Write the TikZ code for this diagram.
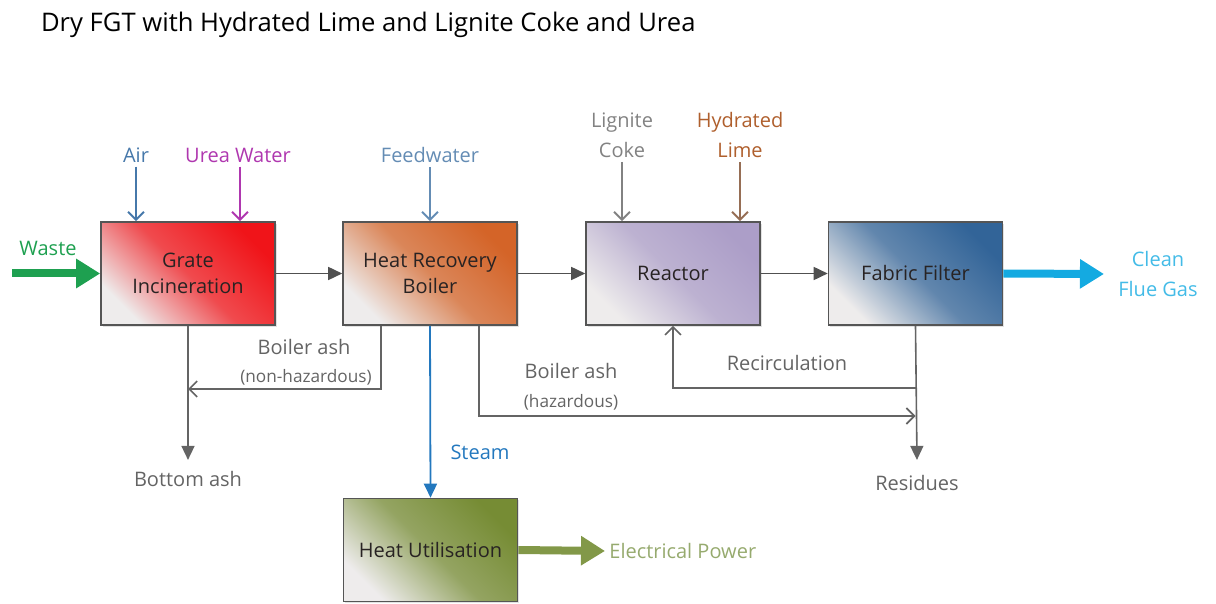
\documentclass[tikz,border=0pt]{standalone}
\usepackage{fontspec}
\setmainfont{Open Sans}
\usetikzlibrary{arrows.meta,positioning,shadows}
\definecolor{BoxEdge}{RGB}{85,85,85}
\definecolor{BoxText}{RGB}{40,35,35}
\definecolor{BoxLight}{RGB}{238,236,236}
\definecolor{GrateRed}{RGB}{240,20,25}
\definecolor{BoilerOrange}{RGB}{212,100,40}
\definecolor{ReactorLilac}{RGB}{172,158,200}
\definecolor{FilterBlue}{RGB}{50,100,152}
\definecolor{UtilOlive}{RGB}{118,140,52}
\definecolor{FlowGray}{RGB}{80,80,80}
\definecolor{AshGray}{RGB}{100,100,100}
\definecolor{WasteGreen}{RGB}{30,160,80}
\definecolor{AirBlue}{RGB}{70,120,170}
\definecolor{UreaPurple}{RGB}{175,55,175}
\definecolor{FeedBlue}{RGB}{100,140,180}
\definecolor{CokeGray}{RGB}{130,130,130}
\definecolor{LimeBrown}{RGB}{175,95,45}
\definecolor{LimeArrow}{RGB}{150,110,85}
\definecolor{SteamBlue}{RGB}{35,120,190}
\definecolor{CleanBlue}{RGB}{20,170,225}
\definecolor{PowerGreen}{RGB}{130,152,72}
\definecolor{PowerText}{RGB}{150,170,110}
\tikzset{
  unit/.style={draw=BoxEdge,line width=0.8pt,minimum width=87pt,
    minimum height=51.5pt,align=center,text=BoxText,
    font=\fontsize{10}{13}\selectfont,
    top color=#1,bottom color=BoxLight,middle color=#1!75!BoxLight,
    shading angle=-45,
    drop shadow={shadow xshift=0.8pt,shadow yshift=-0.8pt,fill=gray!45}},
  lbl/.style={font=\fontsize{10}{15}\selectfont,align=center,inner sep=2pt},
  smalllbl/.style={font=\fontsize{8.6}{10}\selectfont,align=center,inner sep=2pt},
  flow/.style={-{Triangle[length=7pt,width=6.5pt]},line width=0.8pt,FlowGray},
  ashline/.style={-{Straight Barb[length=4pt,width=8pt]},line width=0.8pt,AshGray},
  feed/.style={-{Straight Barb[length=4pt,width=8pt]},line width=1pt},
  bigflow/.style={-{Triangle[length=12pt,width=14pt]},line width=4pt}
}
\begin{document}
\begin{tikzpicture}[x=0.5pt,y=0.5pt]
\useasboundingbox (0,0) rectangle (1216,-604);
\node[anchor=west,font=\fontsize{12.8}{15}\selectfont] (title) at (34,-25)
  {Dry FGT with Hydrated Lime and Lignite Coke and Urea};
% process units
\node[unit=GrateRed] (gi) at (188,-273.5) {Grate\\Incineration};
\node[unit=BoilerOrange] (hrb) at (430,-273.5) {Heat Recovery\\Boiler};
\node[unit=ReactorLilac] (reactor) at (673,-273.5) {Reactor};
\node[unit=FilterBlue] (ff) at (915.5,-273.5) {Fabric Filter};
\node[unit=UtilOlive] (hu) at (430.5,-550) {Heat Utilisation};
% labels
\node[lbl,text=WasteGreen] (waste) at (48,-248) {Waste};
\node[lbl,text=AirBlue] (air) at (136,-155) {Air};
\node[lbl,text=UreaPurple] (urea) at (238,-155) {Urea Water};
\node[lbl,text=FeedBlue] (feedw) at (430,-155) {Feedwater};
\node[lbl,text=CokeGray] (coke) at (622,-135) {Lignite\\Coke};
\node[lbl,text=LimeBrown] (lime) at (740,-135) {Hydrated\\Lime};
\node[lbl,text=CleanBlue!80!white] (clean) at (1158,-274) {Clean\\Flue Gas};
\node[lbl,text=PowerText,anchor=west] (power) at (605,-551) {Electrical Power};
\node[lbl,text=SteamBlue] (steam) at (480,-452) {Steam};
\node[lbl,text=AshGray] (ash1) at (304,-347) {Boiler ash};
\node[smalllbl,text=AshGray] (nonhaz) at (306,-377) {(non-hazardous)};
\node[lbl,text=AshGray] (ash2) at (571,-371) {Boiler ash};
\node[smalllbl,text=AshGray] (haz) at (571,-402) {(hazardous)};
\node[lbl,text=AshGray] (bottom) at (188,-479) {Bottom ash};
\node[lbl,text=AshGray] (recirc) at (787,-363) {Recirculation};
\node[lbl,text=AshGray] (resid) at (917,-483) {Residues};
\coordinate (wastein) at (12,-273.5);
\coordinate (nhaz) at (381,-389);
\coordinate (hzd) at (479,-416);
\coordinate (rc) at (0,-388);
% inputs
\draw[bigflow,WasteGreen] (wastein) -- (gi.west);
\draw[feed,AirBlue] (air.south) -- (air.south |- gi.north);
\draw[feed,UreaPurple] ([xshift=1pt]urea.south) -- ([xshift=1pt]urea.south |- gi.north);
\draw[feed,FeedBlue] (feedw.south) -- (feedw.south |- hrb.north);
\draw[feed,CokeGray] (coke.south) -- (coke.south |- reactor.north);
\draw[feed,LimeArrow] (lime.south) -- (lime.south |- reactor.north);
% main flow
\draw[flow] (gi) -- (hrb);
\draw[flow] (hrb) -- (reactor);
\draw[flow] (reactor) -- (ff);
\draw[bigflow,CleanBlue] (ff.east) -- ([xshift=-5pt]clean.west);
\draw[-{Triangle[length=7pt,width=6.5pt]},line width=0.9pt,SteamBlue] (hrb.south) -- (hu.north);
\draw[bigflow,PowerGreen] (hu.east) -- (power.west);
% ash and residues
\draw[flow,AshGray] (gi.south) -- ([yshift=3.5pt]bottom.north);
\draw[ashline] (hrb.south -| nhaz) |- (gi.south |- nhaz);
\draw[ashline] (hrb.south -| hzd) |- (ff.south |- hzd);
\draw[flow,AshGray] (ff.south) -- ([yshift=5.5pt]resid.north);
\draw[ashline] (ff.south |- rc) -| (reactor.south);
\end{tikzpicture}
\end{document}
